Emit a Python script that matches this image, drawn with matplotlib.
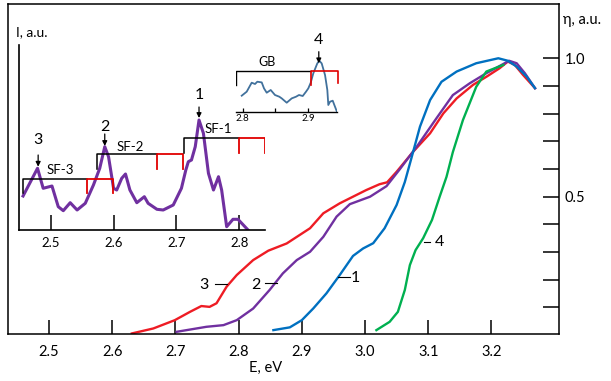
import matplotlib.pyplot as plt

plt.rcParams['font.family'] = ['Lato', 'DejaVu Sans']

# main panel: quantum efficiency eta vs photon energy, curves 1-4
energy_1 = [2.855, 2.881, 2.900, 2.918, 2.939, 2.960, 2.981, 2.997, 3.013, 3.031,
            3.050, 3.063, 3.074, 3.087, 3.103, 3.121, 3.145, 3.176, 3.211, 3.226,
            3.240, 3.256, 3.269]
eta_1 = [0.018, 0.028, 0.054, 0.096, 0.151, 0.217, 0.286, 0.313, 0.332, 0.386,
         0.470, 0.553, 0.644, 0.753, 0.849, 0.915, 0.952, 0.982, 1.000, 0.991,
         0.970, 0.933, 0.892]

energy_2 = [2.702, 2.749, 2.776, 2.797, 2.823, 2.849, 2.870, 2.892, 2.913, 2.934,
            2.955, 2.976, 3.008, 3.034, 3.055, 3.082, 3.113, 3.139, 3.166, 3.192,
            3.213, 3.228, 3.240, 3.253, 3.269]
eta_2 = [0.012, 0.030, 0.036, 0.054, 0.096, 0.163, 0.223, 0.271, 0.301, 0.355,
         0.428, 0.473, 0.500, 0.538, 0.599, 0.681, 0.783, 0.867, 0.910, 0.946,
         0.972, 0.991, 0.982, 0.946, 0.892]

energy_3 = [2.631, 2.665, 2.699, 2.723, 2.741, 2.754, 2.765, 2.781, 2.797, 2.823,
            2.847, 2.876, 2.913, 2.934, 2.960, 3.002, 3.023, 3.035, 3.050, 3.076,
            3.103, 3.124, 3.145, 3.171, 3.192, 3.213, 3.226, 3.237, 3.250, 3.269]
eta_3 = [0.006, 0.024, 0.054, 0.084, 0.105, 0.102, 0.115, 0.175, 0.217, 0.271,
         0.305, 0.331, 0.386, 0.440, 0.476, 0.524, 0.545, 0.552, 0.590, 0.662,
         0.729, 0.801, 0.855, 0.904, 0.933, 0.964, 0.988, 0.976, 0.940, 0.892]

energy_4 = [3.018, 3.039, 3.052, 3.063, 3.071, 3.080, 3.092, 3.106, 3.118, 3.129,
            3.139, 3.155, 3.176, 3.192, 3.219]
eta_4 = [0.018, 0.048, 0.084, 0.163, 0.253, 0.307, 0.350, 0.416, 0.499, 0.572,
         0.661, 0.777, 0.897, 0.952, 0.976]

x_ticks = [2.5, 2.6, 2.7, 2.8, 2.9, 3.0, 3.1, 3.2]
eta_ticks = [0.1, 0.2, 0.3, 0.4, 0.5, 0.6, 0.7, 0.8, 0.9, 1.0]
eta_labels = ['', '', '', '', '0.5', '', '', '', '', '1.0']

# inset: luminescence spectrum I(E)
inset_energy = [2.456, 2.479, 2.488, 2.502, 2.512, 2.520, 2.531, 2.537, 2.542, 2.555,
                2.568, 2.578, 2.586, 2.592, 2.600, 2.605, 2.613, 2.619, 2.626, 2.637,
                2.649, 2.655, 2.669, 2.679, 2.695, 2.708, 2.715, 2.719, 2.724, 2.730,
                2.736, 2.743, 2.751, 2.759, 2.767, 2.772, 2.780, 2.790, 2.798, 2.814]
inset_intensity = [34, 61.7, 41.7, 44, 23.3, 19.3, 27.3, 23.3, 20, 26.7,
                   45, 61.7, 83.3, 73.3, 41.7, 40, 51.7, 56, 40, 27.3,
                   33.3, 26.7, 20.7, 20, 25, 41.7, 60, 68.3, 70, 83.3,
                   110, 96.7, 56.7, 40, 53.3, 40, 3.3, 10.7, 10.7, 0]
inset_ticks = [2.5, 2.6, 2.7, 2.8]

# peak markers: label, energy, text height, arrow top, arrow tip
peak_labels = ['3', '2', '1']
peak_energy = [2.480, 2.586, 2.736]
peak_text_y = [90, 103.3, 135]
peak_arrow_top = [75, 96, 123]
peak_arrow_tip = [63.3, 84, 112]

# SF brackets: black part from start to mid, red part from mid to end
sf_labels = ['SF-3', 'SF-2', 'SF-1']
sf_start = [2.4555, 2.5741, 2.7120]
sf_mid = [2.5573, 2.6686, 2.8000]
sf_end = [2.5996, 2.7109, 2.8409]
sf_bar = [51, 75.7, 91.7]
sf_leg = [37, 61, 77]
sf_label_x = [2.5148, 2.6261, 2.7666]
sf_label_y = [60, 83.3, 100.7]

# small inset: GB band
gb_energy = [2.7985, 2.8061, 2.8137, 2.8188, 2.8223, 2.8290, 2.8325, 2.8366, 2.8427, 2.8492,
             2.8558, 2.8595, 2.8671, 2.8747, 2.8813, 2.8858, 2.8915, 2.8965, 2.9000, 2.9037,
             2.9076, 2.9137, 2.9168, 2.9204, 2.9255, 2.9290, 2.9305, 2.9331, 2.9372, 2.9407,
             2.9442]
gb_intensity = [16, 20, 29, 27.7, 30, 29.3, 23.3, 19, 21.7, 16.7,
                15, 13.3, 9, 13.3, 15, 16.7, 15.7, 20, 23.3, 29,
                38.3, 48.3, 51, 48.3, 36.7, 21.7, 6.7, 10, 11, 5,
                -1]
gb_ticks = [2.8, 2.85, 2.9]
gb_tick_labels = ['2.8', '', '2.9']

W, H = 611, 381


def px_box(left, top, right, bottom):
    # axes rectangle from pixel edges of the picture
    return [left / W, 1 - bottom / H, (right - left) / W, (bottom - top) / H]


fig = plt.figure(figsize=(W / 100, H / 100), dpi=100)

# ---- main axes ----
ax = fig.add_axes(px_box(8, 4, 559, 334))
ax.plot(energy_3, eta_3, color='#ee1c24', lw=1.7)
ax.plot(energy_2, eta_2, color='#7030a0', lw=1.7)
ax.plot(energy_1, eta_1, color='#0070c0', lw=1.7)
ax.plot(energy_4, eta_4, color='#00b050', lw=1.7)
ax.set_xlim(2.435, 3.307)
ax.set_ylim(0.004, 1.196)

# curve numbers with short leader dashes
ax.text(2.745, 0.180, '3', fontsize=11.5, ha='center', va='center')
ax.plot([2.762, 2.781], [0.183, 0.183], color='k', lw=0.8)
ax.text(2.828, 0.180, '2', fontsize=11.5, ha='center', va='center')
ax.plot([2.842, 2.861], [0.189, 0.189], color='k', lw=0.8)
ax.text(2.984, 0.208, '1', fontsize=11.5, ha='center', va='center')
ax.plot([2.957, 2.976], [0.211, 0.211], color='k', lw=0.8)
ax.text(3.118, 0.335, '4', fontsize=11.5, ha='center', va='center')
ax.plot([3.093, 3.103], [0.335, 0.335], color='k', lw=0.8)

ax.set_xticks(x_ticks)
ax.tick_params(axis='x', direction='in', length=10, width=1.1, pad=8, labelsize=10.5)
ax.yaxis.tick_right()
ax.set_yticks(eta_ticks)
ax.set_yticklabels(eta_labels)
ax.tick_params(axis='y', direction='in', length=11.5, width=1.1, pad=4, labelsize=10.5)
for s in ax.spines.values():
    s.set_linewidth(1.1)
ax.set_xlabel('E, eV', fontsize=10.5)
ax.xaxis.set_label_coords((266 - 8) / 551, -(361 - 334) / 330)
fig.text(563 / W, 1 - 20 / H, 'η, a.u.', fontsize=10.5, ha='left', va='center')

# ---- inset spectrum ----
ins = fig.add_axes(px_box(19.3, 45, 265, 230))
ins.patch.set_alpha(0)
ins.plot(inset_energy, inset_intensity, color='#7030a0', lw=2.2)
ins.set_xlim(2.450, 2.841)
ins.set_ylim(0, 185)
for k in range(3):
    ins.plot([sf_start[k], sf_start[k], sf_mid[k]], [sf_leg[k], sf_bar[k], sf_bar[k]],
             color='k', lw=1.1)
    ins.plot([sf_mid[k], sf_mid[k], sf_end[k], sf_end[k]],
             [sf_leg[k], sf_bar[k], sf_bar[k], sf_leg[k]], color='#e00000', lw=1.3)
    ins.text(sf_label_x[k], sf_label_y[k], sf_labels[k], fontsize=9.5, ha='center', va='center')
    ins.text(peak_energy[k], peak_text_y[k], peak_labels[k], fontsize=11.5, ha='center', va='center')
    ins.annotate('', xy=(peak_energy[k], peak_arrow_tip[k]),
                 xytext=(peak_energy[k], peak_arrow_top[k]),
                 arrowprops=dict(arrowstyle='-|>', color='k', lw=0.9, mutation_scale=7,
                                 shrinkA=0, shrinkB=0))
ins.spines['top'].set_visible(False)
ins.spines['right'].set_visible(False)
ins.spines['left'].set_linewidth(1.2)
ins.spines['bottom'].set_linewidth(1.2)
ins.set_xticks(inset_ticks)
ins.set_yticks([])
ins.tick_params(axis='x', direction='in', length=11, width=1.1, pad=5, labelsize=9.5)
fig.text(16 / W, 1 - 32 / H, 'I, a.u.', fontsize=10, ha='left', va='center')

# ---- small GB inset ----
gb = fig.add_axes(px_box(236, 30, 337.3, 111.7))
gb.patch.set_alpha(0)
gb.plot(gb_energy, gb_intensity, color='#41719c', lw=1.3)
gb.set_xlim(2.7898, 2.9442)
gb.set_ylim(0, 81.7)
gb.plot([2.7898, 2.7898, 2.9041], [26.7, 40.7, 40.7], color='k', lw=1.0)
gb.plot([2.9041, 2.9041, 2.9457, 2.9457], [26.7, 40.7, 40.7, 28.3], color='#e00000', lw=1.2,
        clip_on=False)
gb.text(2.8366, 49.4, 'GB', fontsize=9, ha='center', va='center')
gb.text(2.9160, 71.7, '4', fontsize=11.5, ha='center', va='center')
gb.annotate('', xy=(2.9160, 48.4), xytext=(2.9160, 60),
            arrowprops=dict(arrowstyle='-|>', color='k', lw=0.9, mutation_scale=7,
                            shrinkA=0, shrinkB=0))
for side in ['top', 'right', 'left']:
    gb.spines[side].set_visible(False)
gb.spines['bottom'].set_linewidth(1.0)
gb.set_xticks(gb_ticks)
gb.set_xticklabels(gb_tick_labels)
gb.set_yticks([])
gb.tick_params(axis='x', direction='in', length=3, width=0.9, pad=2, labelsize=7)

fig.savefig('out.png', dpi=100)
